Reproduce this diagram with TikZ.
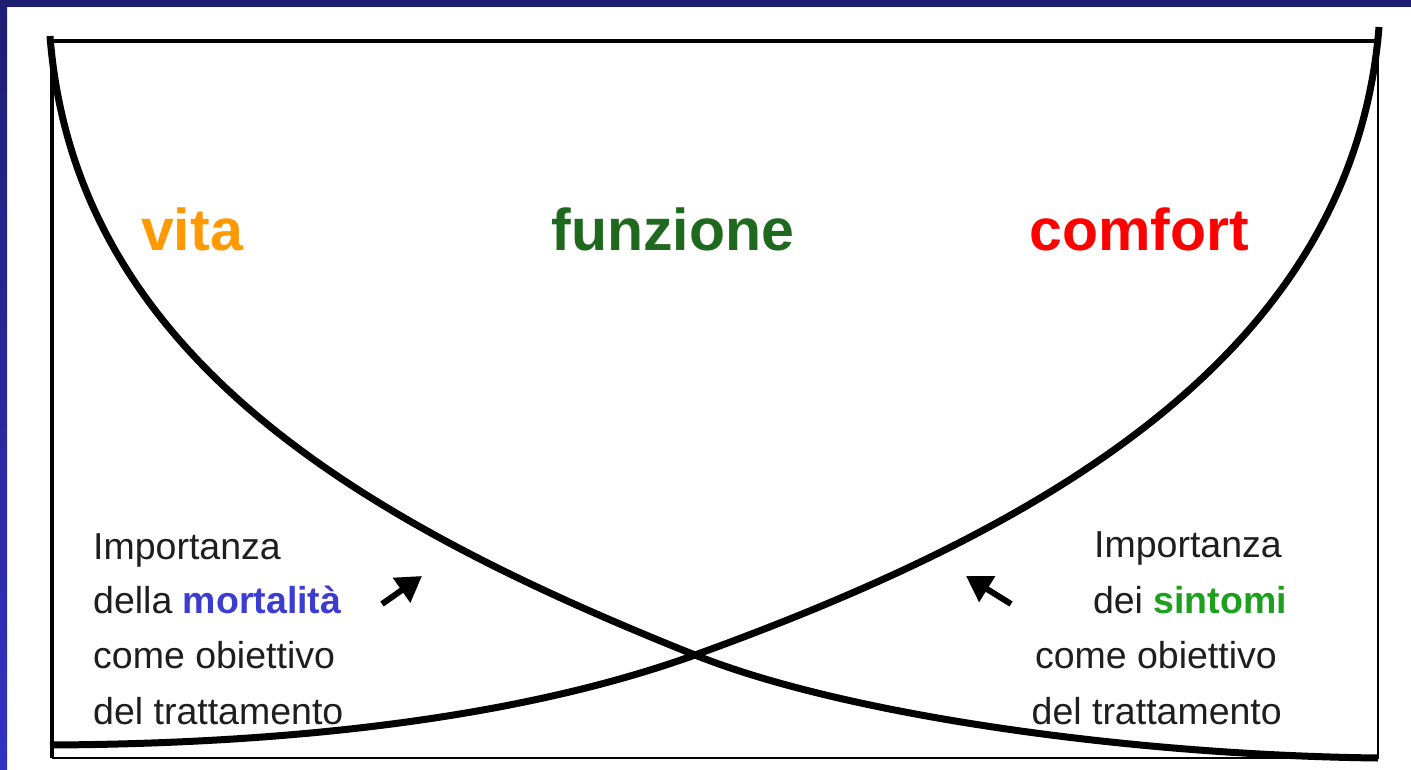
\documentclass[tikz,border=0pt]{standalone}
\usepackage{fontspec}
\setmainfont{Liberation Sans}
\usetikzlibrary{arrows.meta}
\definecolor{navy}{RGB}{30,30,115}
\definecolor{navylow}{RGB}{50,50,195}
\definecolor{vitaorange}{RGB}{255,153,0}
\definecolor{funzgreen}{RGB}{30,105,30}
\definecolor{comfred}{RGB}{255,0,0}
\definecolor{mortblue}{RGB}{60,60,210}
\definecolor{sintgreen}{RGB}{30,160,30}
\definecolor{txtgray}{RGB}{30,30,30}
\tikzset{
  bigword/.style={anchor=base, inner sep=0pt, font=\fontsize{59}{70}\selectfont\bfseries},
  smallleft/.style={anchor=base west, inner sep=0pt, text=txtgray, font=\fontsize{37.5}{44}\selectfont},
  smallright/.style={anchor=base east, inner sep=0pt, text=txtgray, font=\fontsize{37.5}{44}\selectfont},
  curveline/.style={line width=7pt, black},
  framethick/.style={line width=4pt, black},
  framethin/.style={line width=2.5pt, black},
  pointer/.style={line width=6pt, black, -{Triangle[length=25pt,width=29pt]}}
}
\begin{document}
\begin{tikzpicture}[x=1pt,y=-1pt]
\useasboundingbox (0,0) rectangle (1411,769);
\fill[white] (0,0) rectangle (1411,769);
% blue frame
\fill[navy] (0,0) rectangle (1411,7);
\shade[top color=navy, bottom color=navylow] (0,0) rectangle (7,769);
% box
\draw[framethin] (1378,41) -- (1378,758) -- (52,758);
\draw[framethick] (52,758) -- (52,41) -- (1376,41);
% crossing point of the two curves
\coordinate (cross) at (695,655);
% curve A (vita, decreasing)
\coordinate (a0) at (50,36);
\coordinate (a3) at (1378,758);
\draw[curveline] (a0) .. controls (75,360) and (370,525) .. (cross)
  .. controls (845,715) and (1128,755) .. (a3);
% curve B (comfort, increasing)
\coordinate (b0) at (50,745);
\coordinate (b3) at (1379,27);
\draw[curveline] (b0) .. controls (245,744) and (495,727) .. (cross)
  .. controls (1040,530) and (1352.5,356.7) .. (b3);
% big words
\node[bigword, text=vitaorange] (vita) at (192,250) {vita};
\node[bigword, text=funzgreen] (funzione) at (673,250) {funzione};
\node[bigword, text=comfred] (comfort) at (1139,250) {comfort};
% left text
\node[smallleft] (l1) at (93,559) {Importanza};
\node[smallleft] (l2) at (93,613) {della \textcolor{mortblue}{\bfseries mortalità}};
\node[smallleft] (l3) at (93,668) {come obiettivo};
\node[smallleft] (l4) at (93,724) {del trattamento};
% right text
\node[smallright] (r1) at (1282,557) {Importanza};
\node[smallright] (r2) at (1287,613) {dei \textcolor{sintgreen}{\bfseries sintomi}};
\node[smallright] (r3) at (1277,668) {come obiettivo};
\node[smallright] (r4) at (1282,724) {del trattamento};
% arrows
\coordinate (la1) at (382,604);
\coordinate (la2) at (422,576);
\coordinate (ra1) at (1011,604);
\coordinate (ra2) at (966,576);
\draw[pointer] (la1) -- (la2);
\draw[pointer] (ra1) -- (ra2);
\end{tikzpicture}
\end{document}
